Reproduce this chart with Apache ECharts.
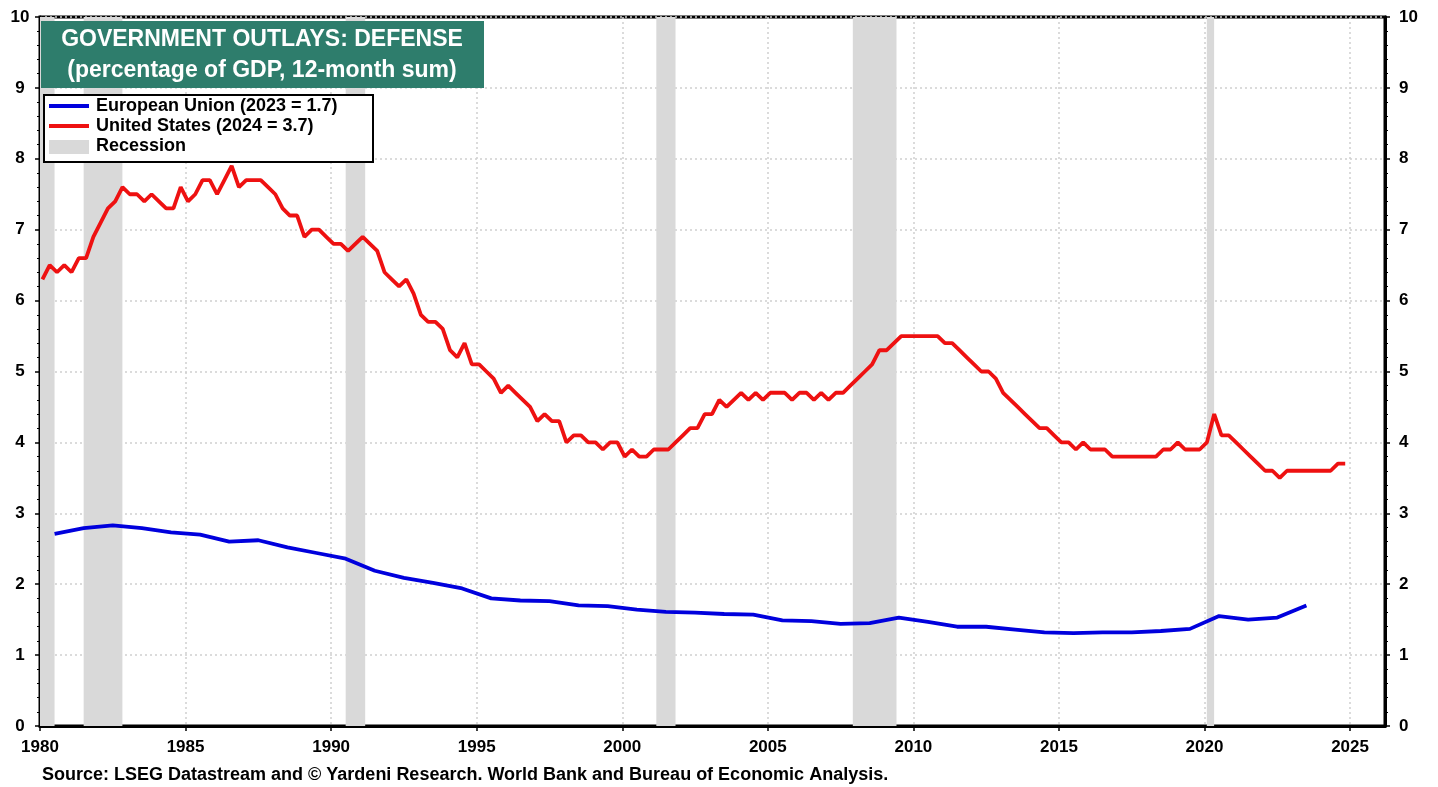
<!DOCTYPE html>
<html>
<head>
<meta charset="utf-8">
<script src="https://cdn.jsdelivr.net/npm/echarts@6/dist/echarts.min.js"></script>
<style>
html,body{margin:0;padding:0;background:#fff;}
#chart{width:1438px;height:787px;}
</style>
</head>
<body>
<div id="chart"></div>
<script>
// ---- Data ----
const xTickYears = [1980, 1985, 1990, 1995, 2000, 2005, 2010, 2015, 2020, 2025];
const yTicks = [0, 1, 2, 3, 4, 5, 6, 7, 8, 9, 10];

// European Union, annual (1980..2023), % of GDP
const euStartYear = 1980;
const euValues = [2.71, 2.79, 2.83, 2.79, 2.73, 2.70, 2.60, 2.62, 2.52, 2.44,
  2.36, 2.19, 2.09, 2.02, 1.94, 1.80, 1.77, 1.76, 1.70, 1.69,
  1.64, 1.61, 1.60, 1.58, 1.57, 1.49, 1.48, 1.44, 1.45, 1.53,
  1.47, 1.40, 1.40, 1.36, 1.32, 1.31, 1.32, 1.32, 1.34, 1.37,
  1.55, 1.50, 1.53, 1.70];

// United States, quarterly (1980Q1..2024Q4), % of GDP
const usStartYear = 1980;
const usValues = [6.3, 6.5, 6.4, 6.5, 6.4, 6.6, 6.6, 6.9, 7.1, 7.3, 7.4,
  7.6, 7.5, 7.5, 7.4, 7.5, 7.4, 7.3, 7.3, 7.6, 7.4,
  7.5, 7.7, 7.7, 7.5, 7.7, 7.9, 7.6, 7.7, 7.7, 7.7,
  7.6, 7.5, 7.3, 7.2, 7.2, 6.9, 7.0, 7.0, 6.9, 6.8,
  6.8, 6.7, 6.8, 6.9, 6.8, 6.7, 6.4, 6.3, 6.2, 6.3,
  6.1, 5.8, 5.7, 5.7, 5.6, 5.3, 5.2, 5.4, 5.1, 5.1,
  5.0, 4.9, 4.7, 4.8, 4.7, 4.6, 4.5, 4.3, 4.4, 4.3,
  4.3, 4.0, 4.1, 4.1, 4.0, 4.0, 3.9, 4.0, 4.0, 3.8,
  3.9, 3.8, 3.8, 3.9, 3.9, 3.9, 4.0, 4.1, 4.2, 4.2,
  4.4, 4.4, 4.6, 4.5, 4.6, 4.7, 4.6, 4.7, 4.6, 4.7,
  4.7, 4.7, 4.6, 4.7, 4.7, 4.6, 4.7, 4.6, 4.7, 4.7,
  4.8, 4.9, 5.0, 5.1, 5.3, 5.3, 5.4, 5.5, 5.5, 5.5,
  5.5, 5.5, 5.5, 5.4, 5.4, 5.3, 5.2, 5.1, 5.0, 5.0,
  4.9, 4.7, 4.6, 4.5, 4.4, 4.3, 4.2, 4.2, 4.1, 4.0,
  4.0, 3.9, 4.0, 3.9, 3.9, 3.9, 3.8, 3.8, 3.8, 3.8,
  3.8, 3.8, 3.8, 3.9, 3.9, 4.0, 3.9, 3.9, 3.9, 4.0,
  4.4, 4.1, 4.1, 4.0, 3.9, 3.8, 3.7, 3.6, 3.6, 3.5,
  3.6, 3.6, 3.6, 3.6, 3.6, 3.6, 3.6, 3.7, 3.7];

// Recession periods (decimal years)
const recessionStarts = [1980.0, 1981.5, 1990.5, 2001.17, 2007.92, 2020.08];
const recessionEnds   = [1980.5, 1982.83, 1991.17, 2001.83, 2009.42, 2020.33];

// Text
const titleLines = ['GOVERNMENT OUTLAYS: DEFENSE', '(percentage of GDP, 12-month sum)'];
const legendNames = ['European Union (2023 = 1.7)', 'United States (2024 = 3.7)', 'Recession'];
const sourceText = 'Source: LSEG Datastream and \u00A9 Yardeni Research. World Bank and Bureau of Economic Analysis.';

// ---- Build ----
const FONT = '"Liberation Sans", Arial, Helvetica, sans-serif';
const euData = euValues.map((v, i) => [euStartYear + i + 0.5, v]);
const usData = usValues.map((v, i) => [usStartYear + i / 4 + 1 / 12, v]);
const recAreas = recessionStarts.map((s, i) => [{ xAxis: s }, { xAxis: recessionEnds[i] }]);

const RED = '#ee1111', BLUE = '#0000dd', TEAL = '#2e7d6c', GRAY = '#d9d9d9';

const chart = echarts.init(document.getElementById('chart'), null, { renderer: 'canvas' });

const yAxisCommon = {
  type: 'value', min: 0, max: 10, interval: 1,
  axisLine: { show: true, lineStyle: { color: '#000', width: 3 } },
  axisTick: { show: true, inside: false, length: 5, lineStyle: { color: '#000', width: 1.5 } },
  minorTick: { show: true, splitNumber: 5, length: 3, lineStyle: { color: '#000', width: 1 } },
};
const yLabelCommon = { color: '#000', fontFamily: FONT, fontWeight: 'bold', fontSize: 17,
  formatter: v => (yTicks.indexOf(v) >= 0 ? String(v) : '') };

chart.setOption({
  animation: false,
  backgroundColor: '#fff',
  grid: { left: 40, right: 53, top: 17, bottom: 61, show: true, borderColor: '#000', borderWidth: 3, backgroundColor: 'transparent' },
  xAxis: {
    type: 'value', min: 1980, max: 2026.2, interval: 5,
    axisLine: { show: true, onZero: false, lineStyle: { color: '#000', width: 3 } },
    axisTick: { show: true, length: 5, lineStyle: { color: '#000', width: 1.5 } },
    axisLabel: { color: '#000', fontFamily: FONT, fontWeight: 'bold', fontSize: 17, margin: 13,
                 showMaxLabel: false,
                 formatter: v => (xTickYears.indexOf(v) >= 0 ? String(v) : '') },
    splitLine: { show: true, lineStyle: { color: '#cfcfcf', type: [2, 3], width: 1.5 } },
  },
  yAxis: [
    Object.assign({}, yAxisCommon, {
      position: 'left',
      axisLabel: Object.assign({}, yLabelCommon, { align: 'center', margin: 20 }),
      splitLine: { show: true, lineStyle: { color: '#cfcfcf', type: [2, 3], width: 1.5 } },
    }),
    Object.assign({}, yAxisCommon, {
      position: 'right',
      axisLabel: Object.assign({}, yLabelCommon, { margin: 14 }),
      splitLine: { show: false },
    }),
  ],
  series: [
    {
      name: 'Recession', type: 'line', data: [], z: 1, silent: true,
      markArea: { silent: true, itemStyle: { color: GRAY }, data: recAreas },
    },
    {
      name: legendNames[0], type: 'line', data: euData, z: 3,
      showSymbol: false, symbol: 'none',
      lineStyle: { color: BLUE, width: 3.8 }, itemStyle: { color: BLUE },
    },
    {
      name: legendNames[1], type: 'line', data: usData, z: 4,
      showSymbol: false, symbol: 'none',
      lineStyle: { color: RED, width: 3.8 }, itemStyle: { color: RED },
    },
  ],
  graphic: [
    // Title box
    { type: 'rect', left: 41, top: 21, z: 100, shape: { width: 443, height: 67 }, style: { fill: TEAL } },
    { type: 'text', x: 262, y: 40, z: 101, style: { text: titleLines[0], fill: '#fff', font: 'bold 23px ' + FONT, textAlign: 'center', textVerticalAlign: 'middle' } },
    { type: 'text', x: 262, y: 71, z: 101, style: { text: titleLines[1], fill: '#fff', font: 'bold 23px ' + FONT, textAlign: 'center', textVerticalAlign: 'middle' } },
    // Legend box
    { type: 'rect', left: 43, top: 94, z: 100, shape: { width: 329, height: 67 }, style: { fill: '#fff', stroke: '#000', lineWidth: 2 } },
    { type: 'line', z: 101, shape: { x1: 49, y1: 106, x2: 89, y2: 106 }, style: { stroke: BLUE, lineWidth: 4 } },
    { type: 'line', z: 101, shape: { x1: 49, y1: 126, x2: 89, y2: 126 }, style: { stroke: RED, lineWidth: 4 } },
    { type: 'rect', z: 101, shape: { x: 49, y: 140, width: 40, height: 14 }, style: { fill: GRAY } },
    { type: 'text', x: 96, y: 106, z: 101, style: { text: legendNames[0], fill: '#000', font: 'bold 18px ' + FONT, textVerticalAlign: 'middle' } },
    { type: 'text', x: 96, y: 126, z: 101, style: { text: legendNames[1], fill: '#000', font: 'bold 18px ' + FONT, textVerticalAlign: 'middle' } },
    { type: 'text', x: 96, y: 146, z: 101, style: { text: legendNames[2], fill: '#000', font: 'bold 18px ' + FONT, textVerticalAlign: 'middle' } },
    // Source
    { type: 'text', x: 42, y: 775, z: 101, style: { text: sourceText, fill: '#000', font: 'bold 18px ' + FONT, textVerticalAlign: 'middle' } },
  ],
});
</script>
</body>
</html>
